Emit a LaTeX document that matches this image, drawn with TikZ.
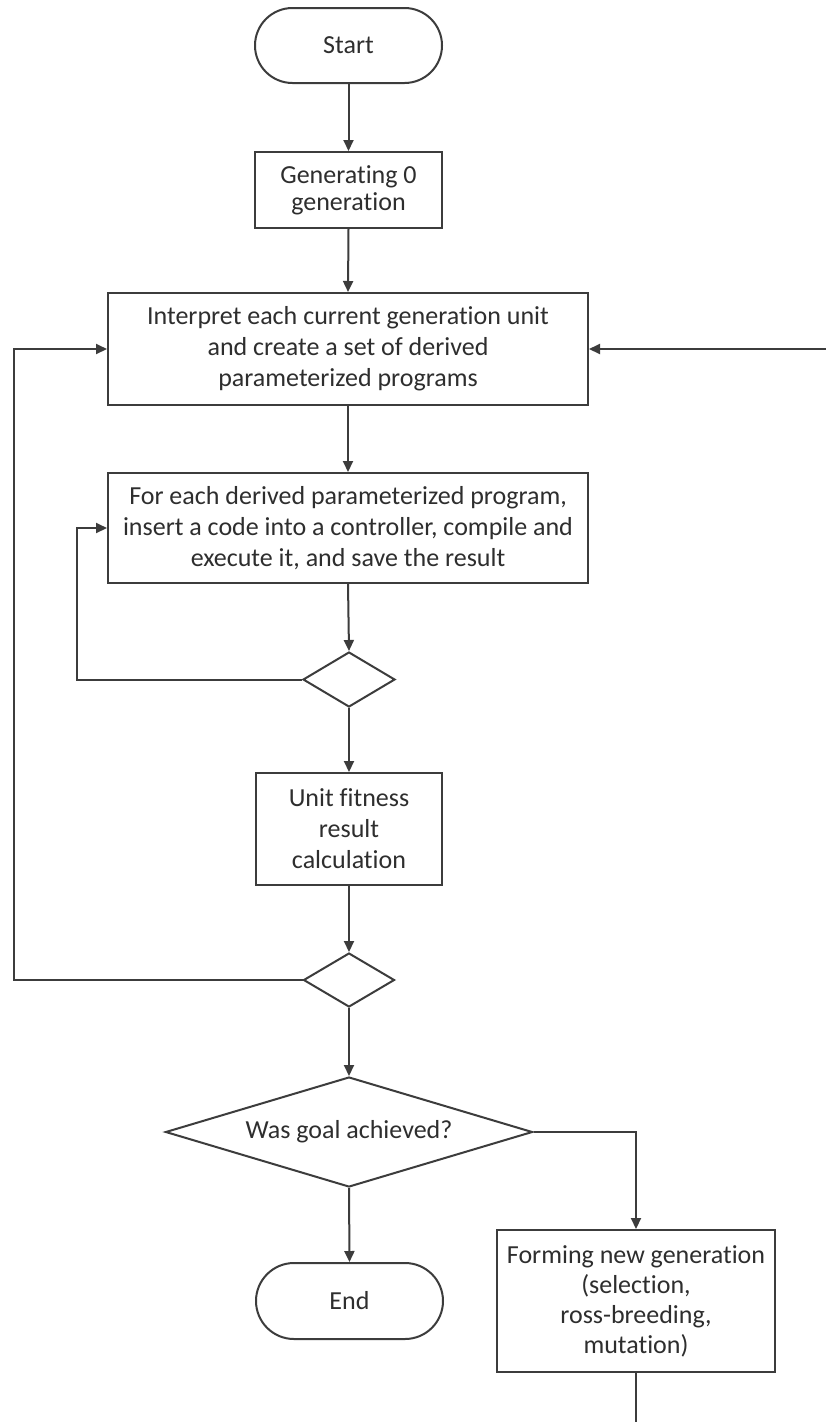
\documentclass[tikz,border=0pt]{standalone}
\usepackage{fontspec}
\setmainfont[Ligatures=NoCommon]{Carlito}
\usetikzlibrary{shapes.geometric,shapes.misc,arrows.meta}
\definecolor{linec}{HTML}{3c3c3c}
\definecolor{textc}{HTML}{2e2e2e}
\begin{document}
\begin{tikzpicture}[x=1pt,y=-1pt,
  every node/.style={font=\fontsize{26}{31}\selectfont, text=textc, align=center},
  boxshape/.style={draw=linec, line width=2pt, rectangle, inner sep=0pt},
  termshape/.style={draw=linec, line width=2pt, rounded rectangle, inner sep=0pt},
  decshape/.style={draw=linec, line width=2pt, diamond, inner sep=0pt, aspect=1.7},
  conn/.style={draw=linec, line width=2pt},
  arr/.style={conn, -{Triangle[length=11pt,width=10pt]}}
]
\useasboundingbox (0,0) rectangle (825,1422);
\fill[white] (0,0) rectangle (825,1422);

\node[termshape, minimum width=187pt, minimum height=75pt] (start) at (348.5,45.5) {Start};
\node[boxshape, minimum width=187pt, minimum height=76pt, font=\fontsize{26}{27}\selectfont] (gen) at (348.5,190) {Generating 0\\generation};
\node[boxshape, minimum width=480pt, minimum height=112pt] (interp) at (348,349) {Interpret each current generation unit\\and create a set of derived\\parameterized programs};
\node[boxshape, minimum width=480pt, minimum height=110pt] (foreach) at (348,528) {For each derived parameterized program,\\insert a code into a controller, compile and\\execute it, and save the result};
\node[decshape, minimum width=92pt, minimum height=55pt] (d1) at (349,679.5) {};
\node[boxshape, minimum width=186pt, minimum height=112pt] (unit) at (349,829) {Unit fitness\\result\\calculation};
\node[decshape, minimum width=91pt, minimum height=54pt] (d2) at (349,980) {};
\node[decshape, aspect=3.3, minimum width=367pt, minimum height=110pt] (goal) at (349,1132) {Was goal achieved?};
\node[termshape, minimum width=187pt, minimum height=76pt] (end) at (349.5,1301) {End};
\node[boxshape, minimum width=278pt, minimum height=142pt, font=\fontsize{26}{30}\selectfont] (form) at (636,1301) {Forming new generation\\(selection,\\ross-breeding,\\mutation)};

\coordinate (in1) at (77,0);
\coordinate (out1) at (14,0);
\coordinate (rin) at (826,349);
\coordinate (fout) at (636,1423);

\draw[arr] (start.south) -- (gen.north);
\draw[arr] (gen.south) -- (interp.north);
\draw[arr] (interp.south) -- (foreach.north);
\draw[arr] (foreach.south) -- (d1.north);
\draw[arr] (d1.south) -- (unit.north);
\draw[arr] (unit.south) -- (d2.north);
\draw[arr] (d2.south) -- (goal.north);
\draw[arr] (goal.south) -- (end.north);
\draw[arr] (goal.east) -| (form.north);
\draw[arr] (d1.west) -- (d1.west -| in1) |- (foreach.west);
\draw[arr] (d2.west) -- (d2.west -| out1) |- (interp.west);
\draw[arr] (rin) -- (interp.east);
\draw[conn] (form.south) -- (fout);
\end{tikzpicture}
\end{document}
